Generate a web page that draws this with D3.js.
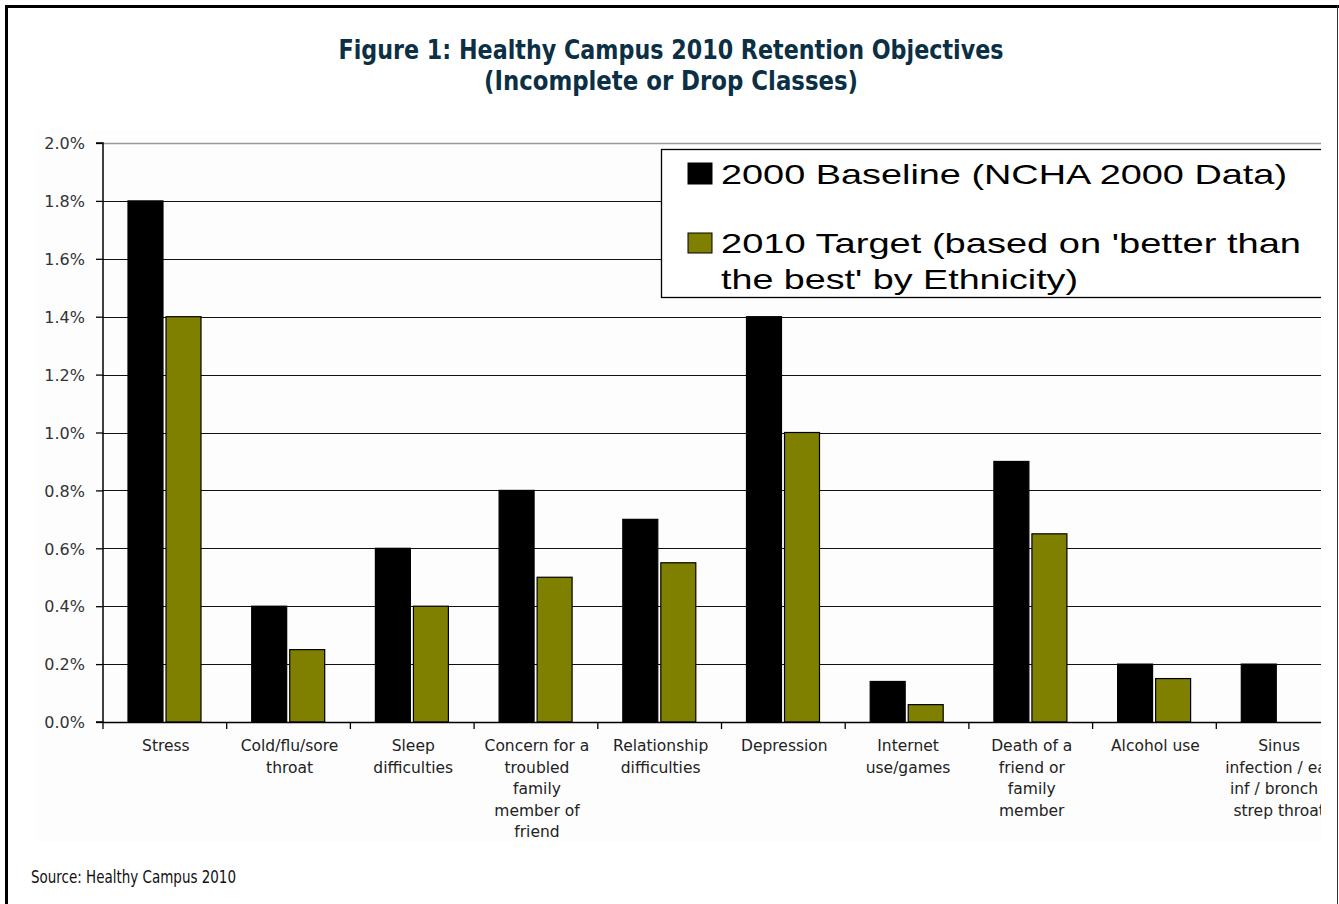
<!DOCTYPE html>
<html>
<head>
<meta charset="utf-8">
<script src="https://cdn.jsdelivr.net/npm/d3@7"></script>
<style>
  html, body { margin: 0; padding: 0; background: #fff; }
  svg { display: block; }
</style>
</head>
<body>
<svg id="chart" width="1339" height="904"></svg>
<script>
// ---- data ----
const categories = [
  "Stress", "Cold/flu/sore throat", "Sleep difficulties",
  "Concern for a troubled family member of friend", "Relationship difficulties",
  "Depression", "Internet use/games", "Death of a friend or family member",
  "Alcohol use", "Sinus infection / ear inf / bronch / strep throat"
];
const categoryLines = [
  ["Stress"],
  ["Cold/flu/sore", "throat"],
  ["Sleep", "difficulties"],
  ["Concern for a", "troubled", "family", "member of", "friend"],
  ["Relationship", "difficulties"],
  ["Depression"],
  ["Internet", "use/games"],
  ["Death of a", "friend or", "family", "member"],
  ["Alcohol use"],
  ["Sinus", "infection / ear", "inf / bronch /", "strep throat"]
];
const baseline2000 = [1.8, 0.4, 0.6, 0.8, 0.7, 1.4, 0.14, 0.9, 0.2, 0.2];
const target2010   = [1.4, 0.25, 0.4, 0.5, 0.55, 1.0, 0.06, 0.65, 0.15, null];
const seriesNames = ["2000 Baseline (NCHA 2000 Data)", "2010 Target (based on 'better than the best' by Ethnicity)"];
const yTicks = [0, 0.2, 0.4, 0.6, 0.8, 1.0, 1.2, 1.4, 1.6, 1.8, 2.0];
const titleLines = ["Figure 1: Healthy Campus 2010 Retention Objectives", "(Incomplete or Drop Classes)"];
const sourceText = "Source: Healthy Campus 2010";

// ---- layout ----
const svg = d3.select("#chart");
const W = 1339, H = 904;
const plotLeft = 103, plotTop = 143, plotBottom = 722, clipRight = 1321;
const bandW = 123.7;

// frame
svg.append("rect").attr("x", 0).attr("y", 0).attr("width", W).attr("height", H).attr("fill", "#fff");
svg.append("rect").attr("x", 36).attr("y", 130).attr("width", clipRight - 36).attr("height", 712).attr("fill", "#fdfdfd");
svg.append("line").attr("x1", 6.5).attr("x2", 6.5).attr("y1", 5).attr("y2", H).attr("stroke", "#000").attr("stroke-width", 3);
svg.append("line").attr("x1", 5).attr("x2", W).attr("y1", 6.5).attr("y2", 6.5).attr("stroke", "#000").attr("stroke-width", 3);
svg.append("line").attr("x1", 1337.5).attr("x2", 1337.5).attr("y1", 5).attr("y2", H).attr("stroke", "#333").attr("stroke-width", 1);

// title
const titleFont = "'Liberation Sans Narrow', 'DejaVu Sans Condensed', 'Liberation Sans', sans-serif";
svg.append("text").attr("x", 671).attr("y", 59).attr("text-anchor", "middle")
  .attr("font-family", titleFont).attr("font-weight", "bold").attr("font-size", 27)
  .attr("fill", "#0b2f44").attr("textLength", 665).attr("lengthAdjust", "spacingAndGlyphs")
  .text(titleLines[0]);
svg.append("text").attr("x", 671).attr("y", 90).attr("text-anchor", "middle")
  .attr("font-family", titleFont).attr("font-weight", "bold").attr("font-size", 27)
  .attr("fill", "#0b2f44").attr("textLength", 374).attr("lengthAdjust", "spacingAndGlyphs")
  .text(titleLines[1]);

// source
svg.append("text").attr("x", 31).attr("y", 883)
  .attr("font-family", titleFont).attr("font-size", 17).attr("fill", "#111")
  .attr("textLength", 205).attr("lengthAdjust", "spacingAndGlyphs")
  .text(sourceText);

// clip
svg.append("defs").append("clipPath").attr("id", "plotclip")
  .append("rect").attr("x", 0).attr("y", 0).attr("width", clipRight).attr("height", H);

const g = svg.append("g").attr("clip-path", "url(#plotclip)");

// scales
const y = d3.scaleLinear().domain([0, 2.0]).range([plotBottom, plotTop]);
const x = d3.scaleBand().domain(categories).range([plotLeft, plotLeft + bandW * categories.length]).padding(0);
const x1 = d3.scaleBand().domain(["baseline", "target"]).range([25, 98]).paddingInner(0.08).paddingOuter(0);

// gridlines
g.selectAll("line.grid").data(yTicks.filter(d => d > 0)).enter().append("line")
  .attr("class", "grid")
  .attr("x1", plotLeft).attr("x2", clipRight)
  .attr("y1", d => Math.round(y(d)) + 0.5).attr("y2", d => Math.round(y(d)) + 0.5)
  .attr("stroke", d => d >= 2.0 ? "#9a9a9a" : "#111").attr("stroke-width", d => d >= 2.0 ? 1.5 : 1.2);

// bars
const rows = categories.map((c, i) => ({ c, vals: [
  { key: "baseline", v: baseline2000[i], fill: "#000000" },
  { key: "target", v: target2010[i], fill: "#808000" }
]}));
const groups = g.selectAll("g.cat").data(rows).enter().append("g")
  .attr("class", "cat").attr("transform", d => `translate(${x(d.c)},0)`);
groups.selectAll("rect").data(d => d.vals.filter(v => v.v != null)).enter().append("rect")
  .attr("x", d => x1(d.key)).attr("width", x1.bandwidth())
  .attr("y", d => y(d.v)).attr("height", d => y(0) - y(d.v))
  .attr("fill", d => d.fill).attr("stroke", "#000").attr("stroke-width", 1.2);

// axes
const yAxis = d3.axisLeft(y).tickValues(yTicks).tickSize(7).tickFormat(d => d.toFixed(1) + "%");
const ya = svg.append("g").attr("transform", `translate(${plotLeft},0)`).call(yAxis);
ya.select(".domain").attr("stroke", "#000").attr("stroke-width", 1.5).attr("d", `M-7,${plotTop}H0V${plotBottom}H-7`);
ya.selectAll(".tick line").attr("stroke", "#000").attr("stroke-width", 1.3);
ya.selectAll(".tick text").attr("font-family", "'DejaVu Sans', sans-serif").attr("font-size", 16)
  .attr("fill", "#333").attr("x", -18).attr("dy", "0.36em");

// x axis line and boundary ticks
const boundaries = d3.range(categories.length + 1).map(i => plotLeft + i * bandW);
g.append("line").attr("x1", plotLeft).attr("x2", clipRight).attr("y1", plotBottom + 0.5).attr("y2", plotBottom + 0.5)
  .attr("stroke", "#000").attr("stroke-width", 1.5);
g.selectAll("line.xt").data(boundaries).enter().append("line").attr("class", "xt")
  .attr("x1", d => d).attr("x2", d => d).attr("y1", plotBottom).attr("y2", plotBottom + 7)
  .attr("stroke", "#000").attr("stroke-width", 1.3);

// x labels
const lab = g.selectAll("text.xl").data(categories).enter().append("text").attr("class", "xl")
  .attr("text-anchor", "middle")
  .attr("font-family", "'DejaVu Sans', sans-serif").attr("font-size", 15.5).attr("fill", "#222")
  .attr("transform", d => `translate(${x(d) + x.bandwidth() / 2 + 1},0)`);
lab.each(function(d, i) {
  const t = d3.select(this);
  categoryLines[i].forEach((ln, j) => {
    t.append("tspan").attr("x", 0).attr("y", 751 + j * 21.5).text(ln);
  });
});

// legend
const lg = g.append("g");
lg.append("rect").attr("x", 661.5).attr("y", 149.5).attr("width", 700).attr("height", 148)
  .attr("fill", "#fff").attr("stroke", "#000").attr("stroke-width", 1.3);
const legFont = "'Liberation Sans', Arial, sans-serif";
lg.append("rect").attr("x", 688).attr("y", 163).attr("width", 24).attr("height", 21).attr("fill", "#000").attr("stroke", "#000");
lg.append("rect").attr("x", 688).attr("y", 233).attr("width", 24).attr("height", 20).attr("fill", "#808000").attr("stroke", "#000");
lg.append("text").attr("x", 721).attr("y", 184).attr("font-family", legFont).attr("font-size", 28).attr("fill", "#000")
  .attr("textLength", 566).attr("lengthAdjust", "spacingAndGlyphs").text(seriesNames[0]);
lg.append("text").attr("x", 721).attr("y", 253).attr("font-family", legFont).attr("font-size", 28).attr("fill", "#000")
  .attr("textLength", 580).attr("lengthAdjust", "spacingAndGlyphs").text("2010 Target (based on 'better than");
lg.append("text").attr("x", 721).attr("y", 289).attr("font-family", legFont).attr("font-size", 28).attr("fill", "#000")
  .attr("textLength", 357).attr("lengthAdjust", "spacingAndGlyphs").text("the best' by Ethnicity)");
</script>
</body>
</html>
